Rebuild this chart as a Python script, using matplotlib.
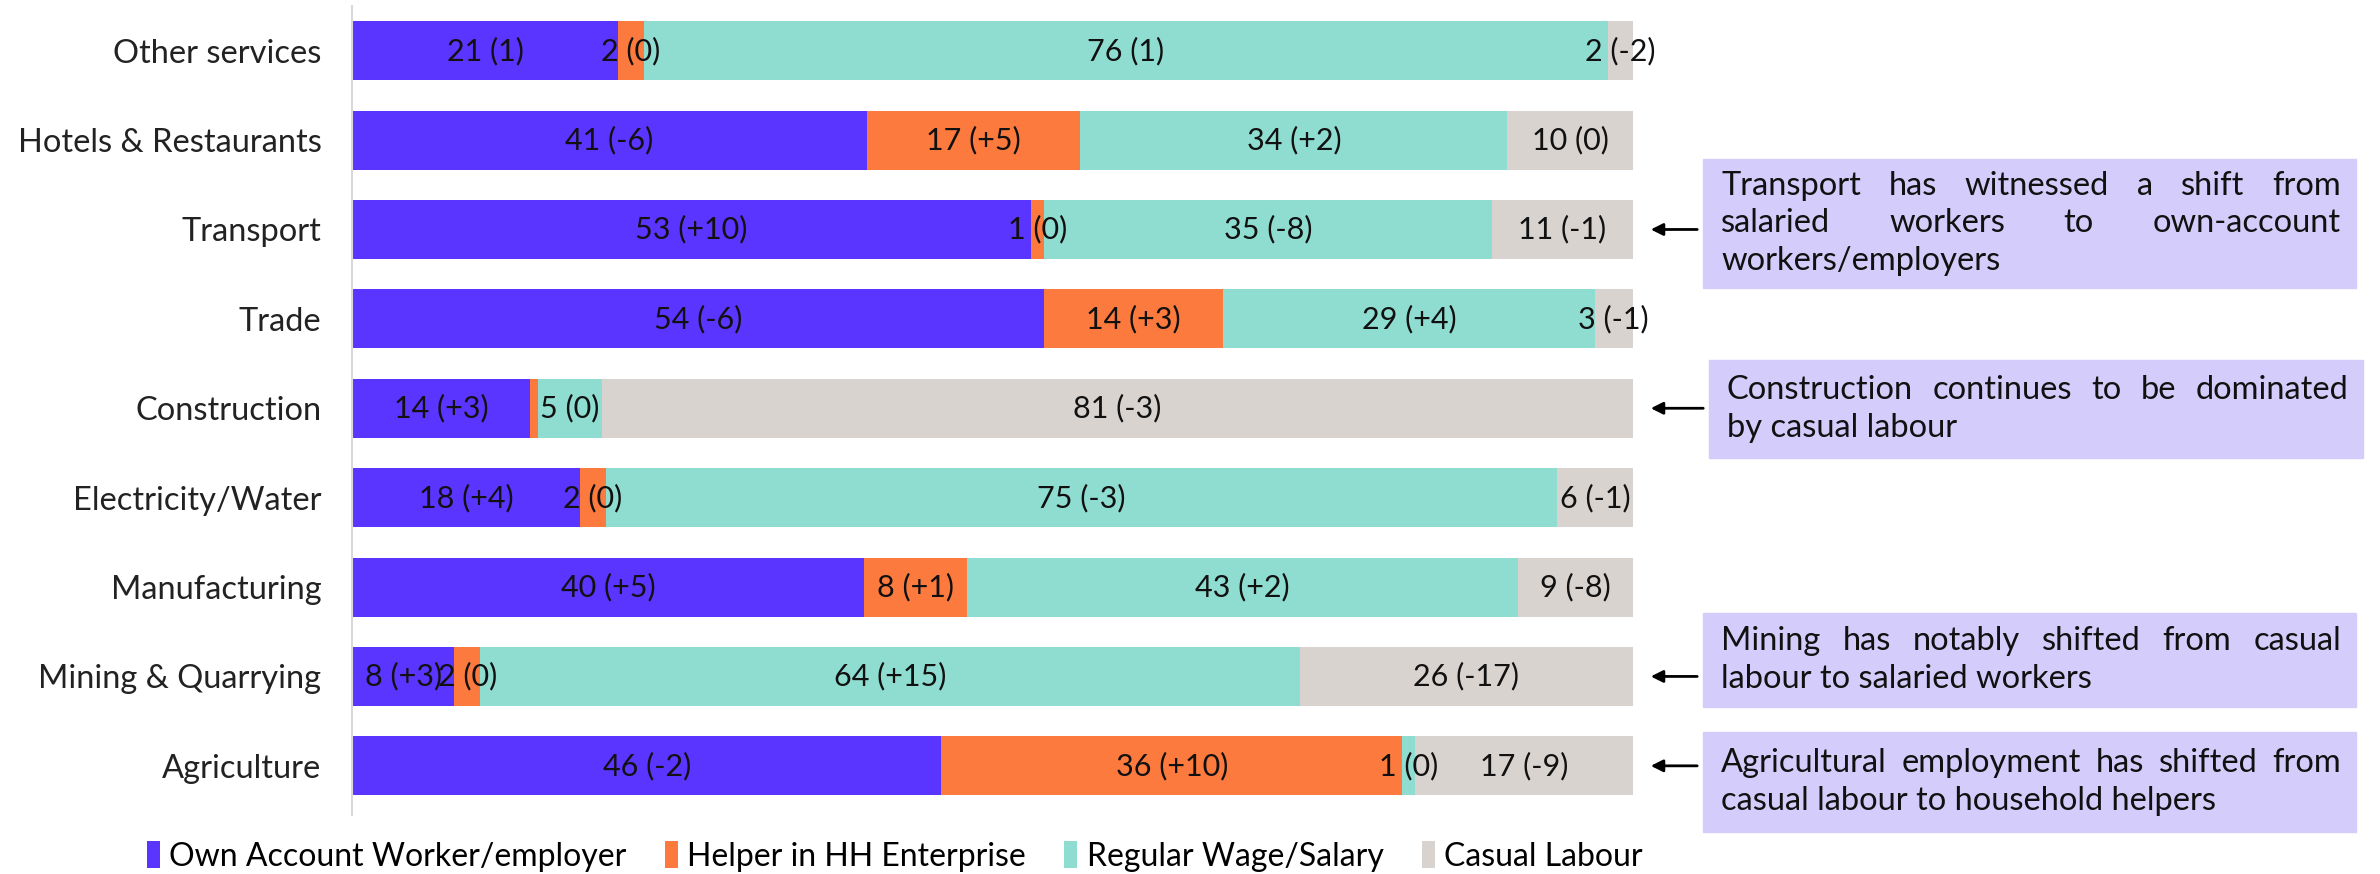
import matplotlib.pyplot as plt
import numpy as np

plt.rcParams['font.family'] = ['Lato', 'DejaVu Sans']

sectors = ['Agriculture', 'Mining & Quarrying', 'Manufacturing', 'Electricity/Water',
           'Construction', 'Trade', 'Transport', 'Hotels & Restaurants', 'Other services']
series_names = ['Own Account Worker/employer', 'Helper in HH Enterprise',
                'Regular Wage/Salary', 'Casual Labour']
own = [46, 8, 40, 18, 14, 54, 53, 41, 21]
own_chg = ['-2', '+3', '+5', '+4', '+3', '-6', '+10', '-6', '1']
helper = [36, 2, 8, 2, 0.6, 14, 1, 17, 2]
helper_chg = ['+10', '0', '+1', '0', None, '+3', '0', '+5', '0']
regular = [1, 64, 43, 75, 5, 29, 35, 34, 76]
regular_chg = ['0', '+15', '+2', '-3', '0', '+4', '-8', '+2', '1']
casual = [17, 26, 9, 6, 81, 3, 11, 10, 2]
casual_chg = ['-9', '-17', '-8', '-1', '-3', '-1', '-1', '0', '-2']

notes = [
    ('Transport', ['Transport has witnessed a shift from', 'salaried workers to own-account',
                   'workers/employers']),
    ('Construction', ['Construction continues to be dominated', 'by casual labour']),
    ('Mining & Quarrying', ['Mining has notably shifted from casual', 'labour to salaried workers']),
    ('Agriculture', ['Agricultural employment has shifted from', 'casual labour to household helpers']),
]

colors = ['#5A35FF', '#FD7A3E', '#8FDDD1', '#D9D3D0']
box_color = '#D4CCFA'
fs = 23.5

W, H = 2380, 874
fig = plt.figure(figsize=(W / 100, H / 100), dpi=100)
ax = fig.add_axes([352 / W, 1 - 815 / H, (1633 - 352) / W, (815 - 6) / H])

values = np.array([own, helper, regular, casual], dtype=float)
changes = [own_chg, helper_chg, regular_chg, casual_chg]
totals = values.sum(axis=0)
shares = values / totals
y = np.arange(len(sectors))
left = np.zeros(len(sectors))
for i in range(4):
    ax.barh(y, shares[i], left=left, height=0.66, color=colors[i], label=series_names[i])
    for j in range(len(sectors)):
        if changes[i][j] is None:
            continue
        lab = f'{values[i][j]:g} ({changes[i][j]})'
        ax.text(left[j] + shares[i][j] / 2, y[j], lab, ha='center', va='center',
                fontsize=22, color='#111111')
    left += shares[i]

ax.set_xlim(0, 1)
ax.set_ylim(-0.55, 8.5)
ax.set_yticks(y)
ax.set_yticklabels(sectors, fontsize=fs, color='#222222')
ax.tick_params(axis='y', length=0, pad=22)
ax.set_xticks([])
for s in ['top', 'right', 'bottom']:
    ax.spines[s].set_visible(False)
ax.spines['left'].set_color('#D9D9D9')
ax.spines['left'].set_linewidth(1.5)

fig.legend(loc='center', bbox_to_anchor=(0.376, 0.02), ncol=4, frameon=False,
           fontsize=23, handlelength=0.4, handleheight=0.9, handletextpad=0.3,
           columnspacing=1.2)

# annotation boxes (pixel coords from the top-left of the figure)
boxes = [(1703, 159, 2356, 288), (1709, 360, 2363, 458),
         (1703, 613, 2356, 707), (1703, 732, 2356, 832)]
fig.canvas.draw()
renderer = fig.canvas.get_renderer()


def fx(px):
    return px / W


def fy(py):
    return 1 - py / H


def word_width(word):
    t = fig.text(0, 0, word, fontsize=fs)
    w = t.get_window_extent(renderer).width
    t.remove()
    return w


line_gap = 38
for (sector, lines), (x0, y0, x1, y1) in zip(notes, boxes):
    fig.patches.append(plt.Rectangle((fx(x0), fy(y1)), fx(x1 - x0), (y1 - y0) / H,
                                     transform=fig.transFigure, color=box_color, zorder=0))
    tx0, tx1 = x0 + 18, x1 - 15
    n = len(lines)
    yc = (y0 + y1) / 2
    first = yc - (n - 1) * line_gap / 2
    for k, line in enumerate(lines):
        ly = first + k * line_gap
        words = line.split()
        if k == n - 1 or len(words) == 1:
            fig.text(fx(tx0), fy(ly), line, fontsize=fs, va='center', ha='left', color='#111111')
            continue
        widths = [word_width(w) for w in words]
        gap = (tx1 - tx0 - sum(widths)) / (len(words) - 1)
        xpos = tx0
        for w, ww in zip(words, widths):
            fig.text(fx(xpos), fy(ly), w, fontsize=fs, va='center', ha='left', color='#111111')
            xpos += ww + gap
    # arrow pointing at the sector's bar
    ya = ax.transData.transform((0, sectors.index(sector)))[1]
    ax.annotate('', xy=(1648 / W, ya / H), xytext=((x0 - 3) / W, ya / H),
                xycoords='figure fraction', textcoords='figure fraction',
                arrowprops=dict(arrowstyle='-|>', color='black', lw=2, mutation_scale=18),
                annotation_clip=False)

fig.savefig('out.png', dpi=100)
